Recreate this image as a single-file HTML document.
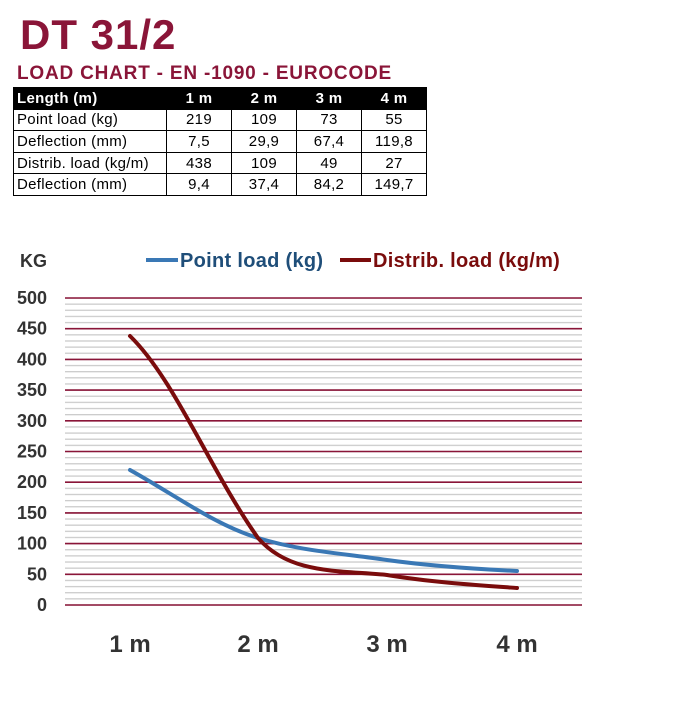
<!DOCTYPE html>
<html><head><style>
body{margin:0;width:700px;height:705px;background:#fff;font-family:"Liberation Sans",sans-serif;position:relative;overflow:hidden}
.t1{position:absolute;left:20px;top:11px;font-size:42px;font-weight:bold;color:#8a1538;letter-spacing:1px}
.t2{position:absolute;left:17px;top:63px;font-size:19px;font-weight:bold;color:#8a1538;letter-spacing:0.8px}
table{position:absolute;left:13px;top:87px;border-collapse:collapse;font-size:15px;letter-spacing:0.3px}
td{border:1px solid #000;height:20.6px;padding:0 3px;text-align:center;width:58px}
td:first-child{text-align:left;width:146px}
tr.h td{background:#000;color:#fff;font-weight:bold}
</style></head><body>
<div class="t1">DT 31/2</div>
<div class="t2">LOAD CHART - EN -1090 - EUROCODE</div>
<table>
<tr class="h"><td>Length (m)</td><td>1 m</td><td>2 m</td><td>3 m</td><td>4 m</td></tr>
<tr><td>Point load (kg)</td><td>219</td><td>109</td><td>73</td><td>55</td></tr>
<tr><td>Deflection (mm)</td><td>7,5</td><td>29,9</td><td>67,4</td><td>119,8</td></tr>
<tr><td>Distrib. load (kg/m)</td><td>438</td><td>109</td><td>49</td><td>27</td></tr>
<tr><td>Deflection (mm)</td><td>9,4</td><td>37,4</td><td>84,2</td><td>149,7</td></tr>
</table>
<svg width="700" height="705" style="position:absolute;left:0;top:0" font-family="Liberation Sans" font-weight="bold">
<defs>
<pattern id="mn" patternUnits="userSpaceOnUse" width="700" height="6.14" patternTransform="translate(0,297.35)">
<rect x="0" y="0" width="700" height="1.3" fill="#ccc"/>
</pattern>
</defs>
<rect x="65" y="298" width="517" height="308" fill="url(#mn)"/>
<g stroke="#8a1538" stroke-width="1.6">
<line x1="65" x2="582" y1="605" y2="605"/><line x1="65" x2="582" y1="574.3" y2="574.3"/>
<line x1="65" x2="582" y1="543.6" y2="543.6"/><line x1="65" x2="582" y1="512.9" y2="512.9"/>
<line x1="65" x2="582" y1="482.2" y2="482.2"/><line x1="65" x2="582" y1="451.5" y2="451.5"/>
<line x1="65" x2="582" y1="420.8" y2="420.8"/><line x1="65" x2="582" y1="390.1" y2="390.1"/>
<line x1="65" x2="582" y1="359.4" y2="359.4"/><line x1="65" x2="582" y1="328.7" y2="328.7"/>
<line x1="65" x2="582" y1="298" y2="298"/>
</g>
<g font-size="18" fill="#333" text-anchor="end">
<text x="47" y="611">0</text><text x="47" y="580.3">50</text><text x="47" y="549.6">100</text>
<text x="47" y="518.9">150</text><text x="47" y="488.2">200</text><text x="47" y="457.5">250</text>
<text x="47" y="426.8">300</text><text x="47" y="396.1">350</text><text x="47" y="365.4">400</text>
<text x="47" y="334.7">450</text><text x="47" y="304">500</text>
</g>
<text x="20" y="267" font-size="18" fill="#333">KG</text>
<line x1="146" x2="178" y1="260" y2="260" stroke="#3a78b5" stroke-width="4"/>
<text x="180" y="267" font-size="20" fill="#1f4e79" letter-spacing="0.3">Point load (kg)</text>
<line x1="340" x2="371" y1="260" y2="260" stroke="#7a0c0c" stroke-width="4"/>
<text x="373" y="267" font-size="20" fill="#7a0c0c" letter-spacing="0.3">Distrib. load (kg/m)</text>
<path d="M130,470 C175,495 215,525 258,538 C300,551 340,553 387,560 C430,566 475,569 517,571" fill="none" stroke="#3a78b5" stroke-width="4" stroke-linecap="round"/>
<path d="M130,336 C175,380 210,470 258,538 C290,575 340,570 387,575 C430,582 475,585 517,588" fill="none" stroke="#7a0c0c" stroke-width="4" stroke-linecap="round"/>
<g font-size="24" fill="#333" text-anchor="middle">
<text x="130" y="652">1 m</text><text x="258" y="652">2 m</text><text x="387" y="652">3 m</text><text x="517" y="652">4 m</text>
</g>
</svg>
</body></html>
